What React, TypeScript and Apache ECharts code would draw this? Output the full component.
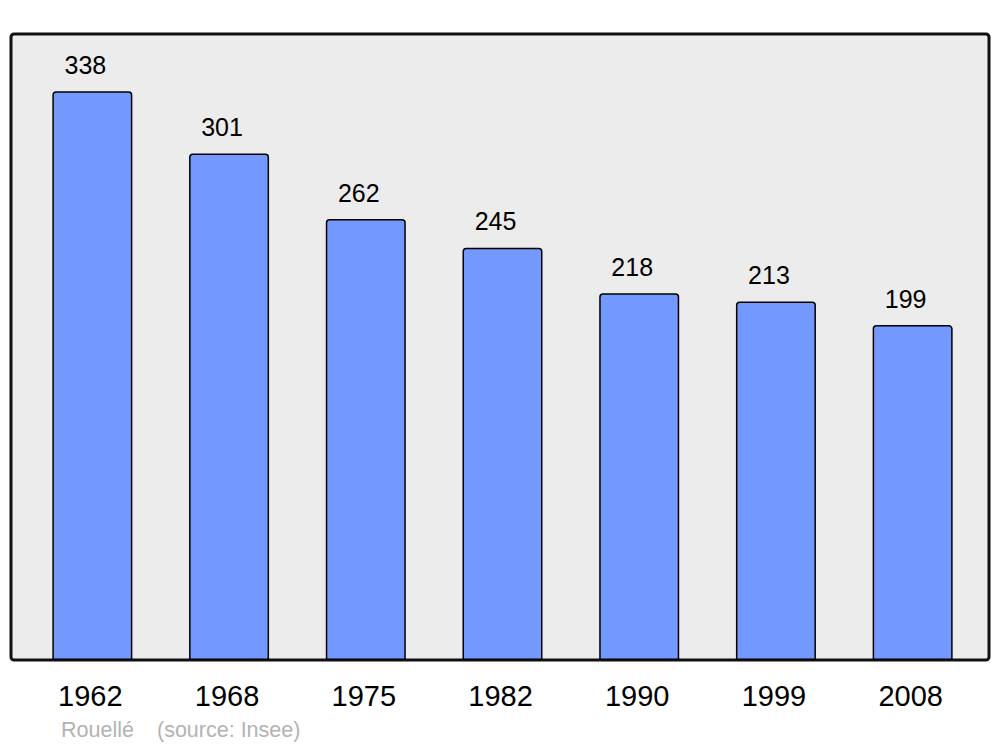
import React, { useEffect, useRef } from "react";
import * as echarts from "echarts";

const years = ["1962", "1968", "1975", "1982", "1990", "1999", "2008"];
const population = [338, 301, 262, 245, 218, 213, 199];
const author = "Rouellé";
const source = "(source: Insee)";

export default function App() {
  const ref = useRef<HTMLDivElement>(null);
  useEffect(() => {
    const chart = echarts.init(ref.current!, null, { renderer: "svg" });
    const font = "'Liberation Sans', Arial, sans-serif";
    chart.setOption({
      animation: false,
      graphic: [
        {
          type: "rect",
          z: -10,
          shape: { x: 11, y: 34, width: 978, height: 626, r: 3 },
          style: { fill: "#ececec", stroke: "#111", lineWidth: 3 },
        },
        {
          type: "text",
          x: 61,
          y: 730,
          style: { text: author, fill: "#b3b3b3", font: "21.5px " + font, verticalAlign: "middle" },
        },
        {
          type: "text",
          x: 157,
          y: 730,
          style: { text: source, fill: "#b3b3b3", font: "21.5px " + font, verticalAlign: "middle" },
        },
      ],
      grid: { left: 24, right: 19, top: 34, bottom: 87 },
      xAxis: {
        type: "category",
        data: years,
        axisLine: { show: false },
        axisTick: { show: false },
        axisLabel: {
          color: "#000",
          fontSize: 29,
          fontFamily: font,
          margin: 21,
          padding: [0, 4, 0, 0],
        },
      },
      yAxis: {
        type: "value",
        min: 0,
        max: 372,
        show: false,
        splitLine: { show: false },
      },
      series: [
        {
          type: "bar",
          data: population,
          barWidth: 80,
          itemStyle: {
            color: "#7399ff",
            borderColor: "#000",
            borderWidth: 1.5,
            borderRadius: [3, 3, 0, 0],
          },
          label: {
            show: true,
            position: "top",
            distance: 14,
            offset: [-7, 0],
            color: "#000",
            fontSize: 25,
            fontFamily: font,
          },
        },
      ],
    });
    return () => chart.dispose();
  }, []);
  return <div ref={ref} style={{ width: 1000, height: 747, position: "absolute", left: 0, top: 0 }} />;
}
